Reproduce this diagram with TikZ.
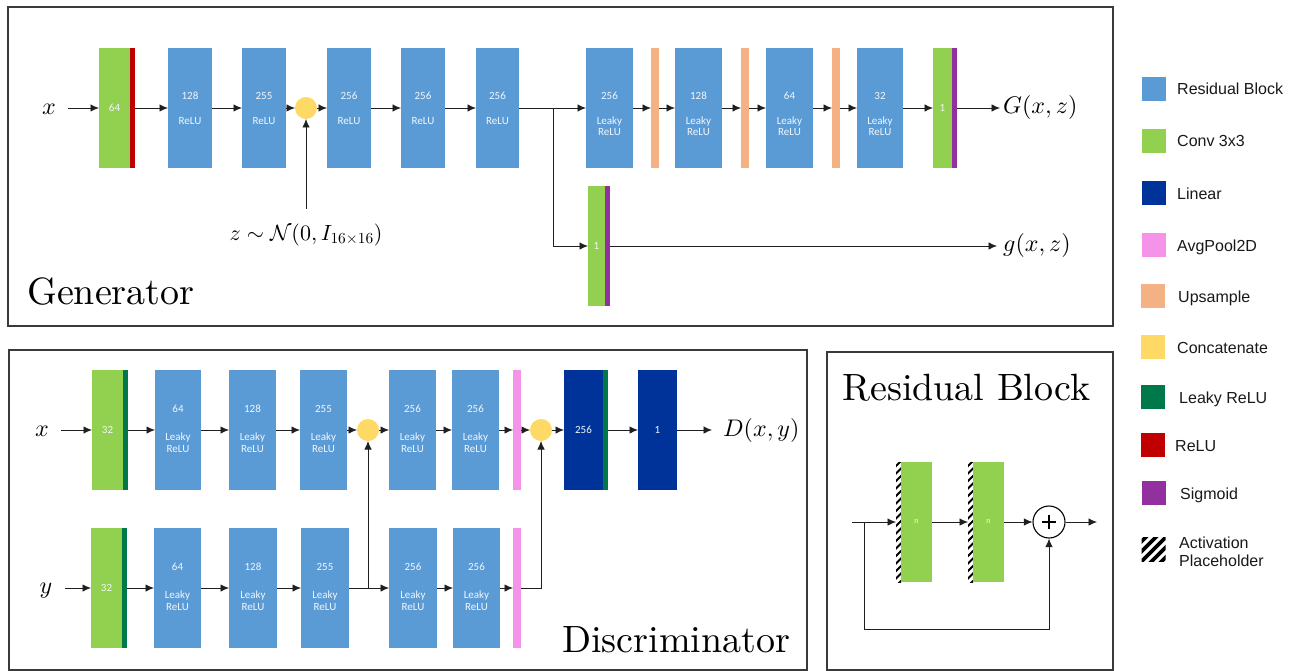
\RequirePackage{fix-cm}
\documentclass[tikz,border=0pt]{standalone}
\usepackage{fontspec}
\newfontfamily\carl{Carlito}
\newfontfamily\arialf{Liberation Sans}
\newfontfamily\lmten{lmroman10-regular}[Extension=.otf]
\DeclareFontShape{OML}{cmm}{m}{it}{<->cmmi10}{\skewchar\font=127}
\DeclareFontShape{OMS}{cmsy}{m}{n}{<->cmsy10}{\skewchar\font=48}
\DeclareFontShape{OT1}{cmr}{m}{n}{<->cmr10}{}
\usetikzlibrary{arrows.meta,calc}
\definecolor{resblue}{HTML}{5B9BD5}
\definecolor{convgreen}{HTML}{92D050}
\definecolor{linnavy}{HTML}{003399}
\definecolor{poolpink}{HTML}{F593E8}
\definecolor{upor}{HTML}{F4B183}
\definecolor{catyel}{HTML}{FFD966}
\definecolor{lrelu}{HTML}{00794A}
\definecolor{reluc}{HTML}{C00000}
\definecolor{sigc}{HTML}{9230A0}
\definecolor{framec}{HTML}{3A3A3A}
\definecolor{btext}{HTML}{F2F6FB}
\newcommand\tgr[1]{\rule{0pt}{8.1pt}#1\\[13.5pt]ReLU}
\newcommand\tgl[1]{\rule{0pt}{19pt}#1\\[13.5pt]Leaky\\ReLU}
\newcommand\tdl[1]{#1\\[16.3pt]Leaky\\ReLU\rule[-2.2pt]{0pt}{2.2pt}}
\begin{document}
\begin{tikzpicture}[x=1pt,y=-1pt,
 blk/.style={draw=none,inner sep=0pt,outer sep=0pt,minimum height=120pt,text=btext,font=\carl\fontsize{11}{11.7}\selectfont,align=center},
 res/.style={blk,fill=resblue,minimum width=#1},
 conv/.style={blk,fill=convgreen,minimum width=#1},
 lin/.style={blk,fill=linnavy,minimum width=#1},
 thinbar/.style={blk,fill=#1,minimum width=5pt},
 upbar/.style={blk,fill=upor,minimum width=8pt},
 poolbar/.style={blk,fill=poolpink,minimum width=8pt},
 catnode/.style={circle,fill=catyel,draw=none,minimum size=22pt,inner sep=0pt,outer sep=0pt},
 arr/.style={draw=black!88,line width=0.9pt,-{Latex[length=8.5pt,width=7.5pt]}},
 ln/.style={draw=black!88,line width=0.9pt},
 frame/.style={draw=framec,line width=1.8pt},
 mathlbl/.style={font=\fontsize{24}{28}\selectfont,inner sep=0pt},
 title/.style={font=\lmten\fontsize{38}{44}\selectfont,inner sep=0pt,anchor=base west},
 legsq/.style={minimum size=24pt,inner sep=0pt,draw=none},
 legtxt/.style={font=\arialf\fontsize{16}{18}\selectfont,anchor=base west,inner sep=0pt,text=black!90},
 hatch/.style={blk,fill=white,minimum width=5pt,path picture={
   \foreach \k in {0,...,16}{\draw[line width=2pt] ($(path picture bounding box.north west)+(-2,\k*7.5+6)$) -- ++(9,-9);}}},
 lhatch/.style={legsq,fill=white,path picture={
   \foreach \k in {-3,...,3}{\draw[line width=3.8pt] ($(path picture bounding box.south west)+(\k*10-2,2)$) -- ++(28,-28);}}},
]
\useasboundingbox (0,0) rectangle (1297,671);
\fill[white] (0,0) rectangle (1297,671);

% ================= Generator =================
\draw[frame] (8,7) rectangle (1113,326);
\node[mathlbl,anchor=base] (gx) at (49,115) {$x$};
\node[conv=31] (gc1) at (114.5,108) {64};
\node[thinbar=reluc] (gc1a) at (132.5,108) {};
\node[res=44] (gr1) at (190,108) {\tgr{128}};
\node[res=44] (gr2) at (264,108) {\tgr{255}};
\node[catnode] (gcat) at (306,108) {};
\node[res=44] (gr3) at (349,108) {\tgr{256}};
\node[res=44] (gr4) at (423,108) {\tgr{256}};
\node[res=43] (gr5) at (497.5,108) {\tgr{256}};
\coordinate (gsplit) at (553,108);
\node[res=47] (gl1) at (609.5,108) {\tgl{256}};
\node[upbar] (gu1) at (655,108) {};
\node[res=47] (gl2) at (698.5,108) {\tgl{128}};
\node[upbar] (gu2) at (745,108) {};
\node[res=47] (gl3) at (789.5,108) {\tgl{64}};
\node[upbar] (gu3) at (836,108) {};
\node[res=46] (gl4) at (880,108) {\tgl{32}};
\node[conv=19] (gc2) at (942.5,108) {1};
\node[thinbar=sigc] (gc2a) at (954.5,108) {};
\node[mathlbl,anchor=west] (gG) at (1003,108) {$G(x,z)$};
\node[conv=17] (gc3) at (596.5,246) {1};
\node[thinbar=sigc] (gc3a) at (607.5,246) {};
\node[mathlbl,anchor=west] (gg) at (1003,245) {$g(x,z)$};
\node[mathlbl,font=\fontsize{22}{26}\selectfont] (gz) at (306,235) {$z\sim\mathcal{N}(0,I_{16\times16})$};
\node[title] (gtitle) at (27,304) {Generator};

\draw[arr] ([xshift=12pt]gx.east |- gc1.west) -- (gc1.west);
\draw[arr] (gc1a.east) -- (gr1.west);
\draw[arr] (gr1) -- (gr2);
\draw[arr] (gr2) -- (gcat);
\draw[arr] (gcat) -- (gr3);
\draw[arr] (gr3) -- (gr4);
\draw[arr] (gr4) -- (gr5);
\draw[ln] (gr5.east) -- (gsplit);
\draw[arr] (gsplit) -- (gl1.west);
\draw[arr] (gsplit) |- (gc3.west);
\draw[arr] (gl1) -- (gu1);
\draw[arr] (gu1) -- (gl2);
\draw[arr] (gl2) -- (gu2);
\draw[arr] (gu2) -- (gl3);
\draw[arr] (gl3) -- (gu3);
\draw[arr] (gu3) -- (gl4);
\draw[arr] (gl4) -- (gc2);
\draw[arr] (gc2a.east) -- ([xshift=-3pt]gG.west);
\draw[arr] (gc3a.east) -- ([xshift=-6pt]gg.west |- gc3a.east);
\draw[arr] ([yshift=15pt]gz.north) -- (gcat.south);

% ================= Discriminator =================
\draw[frame] (9,350) rectangle (807,670);
\node[mathlbl,anchor=base] (dx) at (42,436) {$x$};
\node[conv=31] (dc1) at (107.5,430) {32};
\node[thinbar=lrelu] (dc1a) at (125.5,430) {};
\node[res=46] (d1) at (178,430) {\tdl{64}};
\node[res=47] (d2) at (252.5,430) {\tdl{128}};
\node[res=47] (d3) at (323.5,430) {\tdl{255}};
\node[catnode] (dcat1) at (368,430) {};
\node[res=47] (d4) at (412.5,430) {\tdl{256}};
\node[res=47] (d5) at (475.5,430) {\tdl{256}};
\node[poolbar] (dp1) at (517,430) {};
\node[catnode] (dcat2) at (541,430) {};
\node[lin=39] (dl1) at (583.5,430) {256};
\node[thinbar=lrelu] (dl1a) at (605.5,430) {};
\node[lin=39] (dl2) at (657.5,430) {1};
\node[mathlbl,anchor=west] (dD) at (723,430) {$D(x,y)$};

\node[mathlbl,anchor=base] (dy) at (46,593) {$y$};
\node[conv=31] (dc2) at (106.5,588) {32};
\node[thinbar=lrelu] (dc2a) at (124.5,588) {};
\node[res=47] (e1) at (177.5,588) {\tdl{64}};
\node[res=48] (e2) at (253,588) {\tdl{128}};
\node[res=48] (e3) at (325,588) {\tdl{255}};
\coordinate (esplit) at (368,588);
\node[res=48] (e4) at (413,588) {\tdl{256}};
\node[res=47] (e5) at (476.5,588) {\tdl{256}};
\node[poolbar] (dp2) at (517,588) {};
\node[title] (dtitle) at (562,652) {Discriminator};

\draw[arr] ([xshift=12pt]dx.east |- dc1.west) -- (dc1.west);
\draw[arr] (dc1a.east) -- (d1.west);
\draw[arr] (d1) -- (d2);
\draw[arr] (d2) -- (d3);
\draw[arr] (d3) -- (dcat1);
\draw[arr] (dcat1) -- (d4);
\draw[arr] (d4) -- (d5);
\draw[arr] (d5) -- (dp1);
\draw[arr] (dp1) -- (dcat2);
\draw[arr] (dcat2) -- (dl1);
\draw[arr] (dl1a.east) -- (dl2.west);
\draw[arr] (dl2.east) -- ([xshift=-11pt]dD.west);

\draw[arr] ([xshift=12pt]dy.east |- dc2.west) -- (dc2.west);
\draw[arr] (dc2a.east) -- (e1.west);
\draw[arr] (e1) -- (e2);
\draw[arr] (e2) -- (e3);
\draw[ln] (e3.east) -- (esplit);
\draw[arr] (esplit) -- (e4.west);
\draw[arr] (esplit) -- (dcat1.south);
\draw[arr] (e4) -- (e5);
\draw[arr] (e5) -- (dp2);
\draw[arr] (dp2.east) -| (dcat2.south);

% ================= Residual block =================
\draw[frame] (827,352) rectangle (1113,670);
\node[title] (rtitle) at (842,400) {Residual Block};
\node[hatch] (rh1) at (898.5,522) {};
\node[conv=31,font=\carl\fontsize{8}{9}\selectfont] (rc1) at (916.5,522) {n};
\node[hatch] (rh2) at (970.5,522) {};
\node[conv=31,font=\carl\fontsize{8}{9}\selectfont] (rc2) at (988.5,522) {n};
\node[circle,draw=black,line width=1.1pt,minimum size=32pt,inner sep=0pt] (rsum) at (1049,522) {};
\draw[line width=2.4pt] ([yshift=7pt]rsum.center) -- ([yshift=-7pt]rsum.center)
  ([xshift=-7pt]rsum.center) -- ([xshift=7pt]rsum.center);
\coordinate (rin) at (852,522);
\coordinate (rskip) at (864,522);
\coordinate (rbot) at (864,629);
\coordinate (rout) at (1097,522);
\draw[arr] (rin) -- (rh1.west);
\draw[arr] (rskip) -- (rbot) -| (rsum.south);
\draw[arr] (rc1.east) -- (rh2.west);
\draw[arr] (rc2.east) -- (rsum.west);
\draw[arr] (rsum.east) -- (rout);

% ================= Legend =================
\node[legsq,fill=resblue] (k1) at (1154,89) {};
\node[legtxt] (k1t) at (1177,95) {Residual Block};
\node[legsq,fill=convgreen] (k2) at (1154,141) {};
\node[legtxt] (k2t) at (1177,147) {Conv 3x3};
\node[legsq,fill=linnavy] (k3) at (1154,193) {};
\node[legtxt] (k3t) at (1177,199) {Linear};
\node[legsq,fill=poolpink] (k4) at (1154,245) {};
\node[legtxt] (k4t) at (1177,251) {AvgPool2D};
\node[legsq,fill=upor] (k5) at (1153,296) {};
\node[legtxt] (k5t) at (1178,302) {Upsample};
\node[legsq,fill=catyel] (k6) at (1153,347) {};
\node[legtxt] (k6t) at (1177,353) {Concatenate};
\node[legsq,fill=lrelu] (k7) at (1153,397) {};
\node[legtxt] (k7t) at (1179,403) {Leaky ReLU};
\node[legsq,fill=reluc] (k8) at (1153,445) {};
\node[legtxt] (k8t) at (1175,451) {ReLU};
\node[legsq,fill=sigc] (k9) at (1154,493) {};
\node[legtxt] (k9t) at (1180,499) {Sigmoid};
\node[lhatch] (k10) at (1153.5,549.5) {};
\node[legtxt] (k10t) at (1179,548) {Activation};
\node[legtxt] (k10u) at (1179,566) {Placeholder};
\end{tikzpicture}
\end{document}
